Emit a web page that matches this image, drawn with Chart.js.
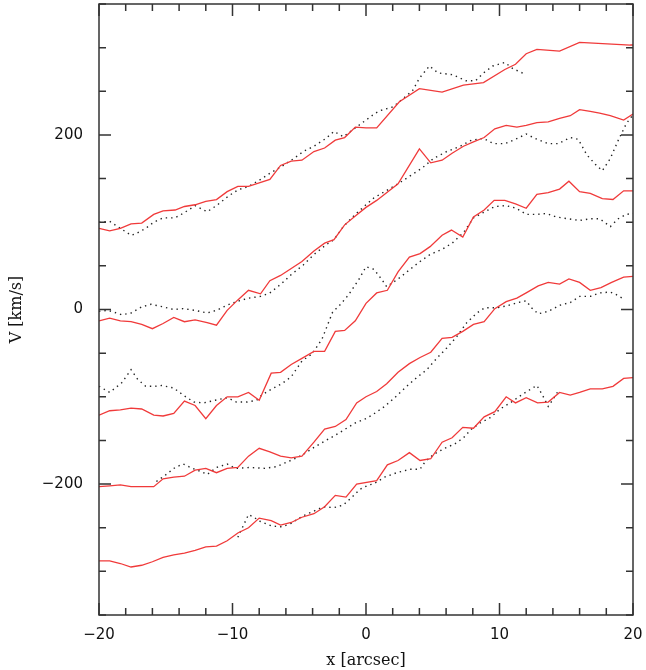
<!DOCTYPE html>
<html>
<head>
<meta charset="utf-8">
<script src="https://cdn.jsdelivr.net/npm/chart.js@4.4.1/dist/chart.umd.min.js"></script>
<style>
  body{margin:0;background:#fff;}
  #wrap{width:646px;height:670px;position:relative;}
</style>
</head>
<body>
<div id="wrap"><canvas id="rotChart"></canvas></div>
<script>
// tick labels
let xTicks=[-20,-10,0,10,20];
let yTicks=[-200,0,200];

// slit 1 (top)
let redX1=[-20,-19.2,-18.4,-17.6,-16.8,-15.9,-15.2,-14.3,-13.6,-12.8,-12,-11.2,-10.4,-9.6,-8.8,-8,-7.2,-6.4,-5.6,-4.8,-3.9,-3.1,-2.3,-1.6,-0.8,0,0.8,2.5,4,5.7,7.3,8.8,10.4,11.2,12,12.8,14.5,16,19.8,20];
let redV1=[93,90,93,98,99,109,113,114,118,120,124,126,135,141,141,145,149,165,170,171,181,185,194,197,209,208,208,238,253,249,257,260,275,281,293,298,296,306,303,303];
let dotX1=[-20,-19.2,-18.8,-18,-17.6,-17.2,-16.5,-15.9,-15.2,-14.3,-13.6,-12.8,-11.9,-11.2,-10.3,-9.6,-8.8,-7.9,-7.2,-6.3,-5.4,-4.7,-3.9,-3,-2.4,-1.7,-0.8,0,0.7,1.1,2,2.5,3.5,4,4.75,5.4,6.5,7.5,8.2,8.8,9.5,10.4,11,12];
let dotV1=[100,101,97,89,85,87,93,100,105,105,111,119,112,119,130,137,141,149,156,164,173,181,187,196,204,198,208,217,225,228,232,238,251,265,279,271,269,262,262,271,279,283,276,269];

// slit 2
let redX2=[-20,-19.2,-18.4,-17.6,-16.8,-16,-15.2,-14.4,-13.6,-12.8,-11.9,-11.2,-10.4,-9.6,-8.8,-7.9,-7.2,-6.4,-5.6,-4.8,-3.9,-3.1,-2.4,-1.6,-0.8,0,0.8,2.4,4,4.85,5.7,6.45,7.3,8.05,8.85,9.65,10.5,11.3,12,12.8,13.65,14.5,15.3,16,16.8,17.5,18.3,19.3,20];
let redV2=[-13,-10,-13,-14,-17,-22,-16,-9,-14,-12,-15,-18,-1,11,22,18,33,39,47,55,67,76,80,97,107,117,125,144,184,168,171,179,187,192,197,207,211,209,211,214,215,219,222,229,227,225,222,217,224];
let dotX2=[-20,-19.3,-18.3,-17.6,-16.8,-16.1,-15.2,-14.4,-13.7,-12.8,-11.9,-11.2,-10.4,-9.7,-8.8,-7.9,-7.2,-6.3,-5.6,-4.7,-3.9,-3,-2.4,-1.7,-0.8,0,0.6,2.4,3.3,4.2,5.05,6.05,7.05,7.9,8.8,9.55,10.4,11.2,12,12.8,13.65,14.4,15.3,15.9,16.55,17.2,17.7,18.3,18.9,19.5,20];
let dotV2=[-2,-1,-6,-4,3,6,3,0,1,-1,-4,-1,5,9,13,15,19,30,40,51,63,74,80,95,109,120,128,144,153,162,173,181,187,194,196,190,190,195,201,195,190,190,197,195,177,166,159,173,194,213,223];

// slit 3
let redX3=[-20,-19.2,-18.4,-17.6,-16.8,-15.9,-15.2,-14.4,-13.6,-12.8,-12,-11.2,-10.4,-9.6,-8.8,-8,-7.1,-6.4,-5.6,-4.8,-3.9,-3.1,-2.3,-1.6,-0.8,0,0.8,1.6,2.4,3.25,4.05,4.8,5.7,6.4,7.25,8.05,8.85,9.6,10.4,11.2,12,12.8,13.65,14.5,15.2,16,16.8,17.7,18.5,19.3,20];
let redV3=[-121,-116,-115,-113,-114,-121,-122,-119,-105,-110,-125,-110,-100,-100,-95,-104,-73,-72,-63,-56,-48,-48,-25,-24,-13,7,19,22,43,60,64,72,85,91,83,106,114,125,125,121,116,132,134,138,147,135,133,127,126,136,136];
let dotX3=[-20,-19.2,-18.3,-17.6,-17.1,-16.5,-15.8,-15.3,-14.4,-13.7,-12.9,-12.15,-11.3,-10.4,-9.7,-8.9,-8.2,-7.8,-7.05,-6.3,-5.6,-4.8,-4.05,-3.3,-2.5,-1.9,-1.3,-0.55,0,0.6,1.2,1.55,2.4,3.3,4.05,4.8,5.7,6.45,7.3,8.05,8.9,9.65,10.5,11.25,12,12.8,13.5,14.25,15.1,16,16.8,17.5,18.3,18.9,19.5,20];
let dotV3=[-88,-95,-84,-69,-80,-88,-88,-87,-90,-98,-106,-107,-104,-101,-106,-106,-104,-98,-91,-85,-77,-59,-51,-34,-3,6,17,34,49,46,34,26,35,46,55,63,69,76,88,105,112,118,119,116,109,109,110,106,104,102,104,104,95,104,109,110];

// slit 4
let redX4=[-20,-19.2,-18.4,-17.6,-16.8,-15.9,-15.2,-14.4,-13.6,-12.8,-12,-11.2,-10.4,-9.6,-8.8,-8,-7.2,-6.4,-5.6,-4.8,-3.9,-3.1,-2.3,-1.5,-0.7,0,0.8,1.55,2.4,3.25,4.05,4.85,5.7,6.45,7.25,8.05,8.85,9.65,10.5,11.3,12,12.9,13.65,14.5,15.2,16,16.8,17.6,18.4,19.3,20];
let redV4=[-203,-202,-201,-203,-203,-203,-194,-192,-191,-184,-182,-187,-182,-181,-168,-159,-163,-168,-170,-168,-152,-137,-134,-126,-107,-100,-94,-85,-72,-62,-55,-49,-33,-32,-25,-17,-14,1,9,13,19,27,31,29,35,31,22,25,31,37,38];
let dotX4=[-15.7,-15.05,-14.3,-13.7,-13,-12.3,-11.9,-11.2,-10.4,-9.8,-8.7,-7.6,-6.7,-5.95,-5.2,-4.7,-3.9,-3,-2.3,-1.55,-0.8,0,0.55,1.4,2.15,3.05,3.8,4.55,5.3,6.05,6.8,7.55,8.3,8.9,9.8,10.5,11.4,12,12.4,12.9,13.65,14.55,15.3,16,16.8,17.5,18.3,18.75,19.3];
let dotV4=[-197,-190,-181,-177,-182,-186,-189,-181,-177,-182,-181,-182,-180,-175,-170,-166,-158,-150,-144,-137,-130,-125,-120,-111,-101,-88,-78,-69,-56,-44,-31,-15,-4,2,2,4,8,10,2,-5,-2,5,8,15,15,19,20,17,12];

// slit 5 (bottom)
let redX5=[-20,-19.2,-18.4,-17.6,-16.8,-16,-15.2,-14.4,-13.6,-12.8,-12,-11.2,-10.4,-9.6,-8.8,-8,-7.1,-6.4,-5.6,-4.8,-3.9,-3.1,-2.3,-1.5,-0.7,0.8,1.6,2.4,3.25,4.05,4.85,5.7,6.45,7.25,8.05,8.85,9.65,10.5,11.2,12,12.85,13.65,14.5,15.3,16,16.8,17.7,18.5,19.3,20];
let redV5=[-288,-288,-291,-295,-293,-289,-284,-281,-279,-276,-272,-271,-265,-256,-250,-239,-242,-247,-244,-238,-234,-226,-213,-215,-200,-196,-178,-173,-164,-173,-171,-152,-147,-135,-136,-123,-117,-100,-107,-101,-107,-106,-95,-98,-95,-91,-91,-88,-79,-78];
let dotX5=[-9.6,-9.2,-8.8,-8.4,-7.9,-7.05,-6.3,-5.6,-4.8,-4.05,-3.2,-2.4,-1.7,-1.05,-0.45,0.2,0.55,1.4,2.3,3.3,4.05,4.4,5.05,5.9,6.65,7.3,7.9,8.55,9.3,10.05,10.8,11.55,12.15,12.8,13.25,13.65,14,14.5];
let dotV5=[-261,-248,-235,-238,-243,-248,-249,-245,-237,-232,-226,-227,-224,-215,-206,-201,-200,-192,-187,-183,-183,-175,-166,-159,-154,-147,-137,-130,-124,-114,-107,-99,-93,-87,-99,-111,-103,-91];

function pts(xs,vs){
  return xs.map((x,i)=>({x:x,y:vs[i]}));
}

function redSet(xs,vs){
  return {data:pts(xs,vs),showLine:true,borderColor:"#f03a3a",borderWidth:1.3,pointRadius:0,fill:false};
}
function dotSet(xs,vs){
  return {data:pts(xs,vs),showLine:true,borderColor:"#222",borderWidth:1.4,borderDash:[1.4,4],pointRadius:0,fill:false};
}

function minus(v){
  return String(v).replace("-","\u2212");
}

// frame with inward ticks on all four sides
const frame={
  id:"frame",
  afterDraw(chart){
    let c=chart.ctx, a=chart.chartArea;
    let xs=chart.scales.x, ys=chart.scales.y;
    c.save();
    c.strokeStyle="#333";
    c.lineWidth=1.5;
    c.strokeRect(a.left,a.top,a.right-a.left,a.bottom-a.top);
    c.beginPath();
    for(let v=-20;v<=20;v+=2){
      let p=xs.getPixelForValue(v);
      let len=(v%10===0)?12:7;
      c.moveTo(p,a.bottom);c.lineTo(p,a.bottom-len);
      c.moveTo(p,a.top);c.lineTo(p,a.top+len);
    }
    for(let v=-350;v<=350;v+=50){
      let p=ys.getPixelForValue(v);
      let len=(v%200===0)?12:7;
      c.moveTo(a.left,p);c.lineTo(a.left+len,p);
      c.moveTo(a.right,p);c.lineTo(a.right-len,p);
    }
    c.stroke();
    c.restore();
  }
};

new Chart(document.getElementById("rotChart"),{
  type:"scatter",
  data:{
    datasets:[
      redSet(redX1,redV1),dotSet(dotX1,dotV1),
      redSet(redX2,redV2),dotSet(dotX2,dotV2),
      redSet(redX3,redV3),dotSet(dotX3,dotV3),
      redSet(redX4,redV4),dotSet(dotX4,dotV4),
      redSet(redX5,redV5),dotSet(dotX5,dotV5)
    ]
  },
  options:{
    responsive:true,
    maintainAspectRatio:false,
    animation:false,
    layout:{padding:{top:4,right:13,left:0,bottom:0}},
    plugins:{legend:{display:false},tooltip:{enabled:false}},
    scales:{
      x:{
        type:"linear",min:-20,max:20,
        afterBuildTicks:s=>{s.ticks=xTicks.map(v=>({value:v}));},
        afterFit:s=>{s.height=55;s.paddingLeft=0;s.paddingRight=0;},
        grid:{display:false,drawTicks:false},
        border:{display:false},
        ticks:{color:"#111",padding:11,font:{family:"DejaVu Sans",size:15},callback:v=>minus(v)},
        title:{display:true,text:"x [arcsec]",color:"#111",padding:{top:2,bottom:0},font:{family:"DejaVu Serif",size:16}}
      },
      y:{
        type:"linear",min:-350,max:350,
        afterBuildTicks:s=>{s.ticks=yTicks.map(v=>({value:v}));},
        afterFit:s=>{s.width=99;s.paddingTop=0;s.paddingBottom=0;},
        grid:{display:false,drawTicks:false},
        border:{display:false},
        ticks:{color:"#111",padding:16,font:{family:"DejaVu Sans",size:15},callback:v=>minus(v)},
        title:{display:true,text:"V [km/s]",color:"#111",padding:{top:7,bottom:0},font:{family:"DejaVu Serif",size:16}}
      }
    }
  },
  plugins:[frame]
});
</script>
</body>
</html>
